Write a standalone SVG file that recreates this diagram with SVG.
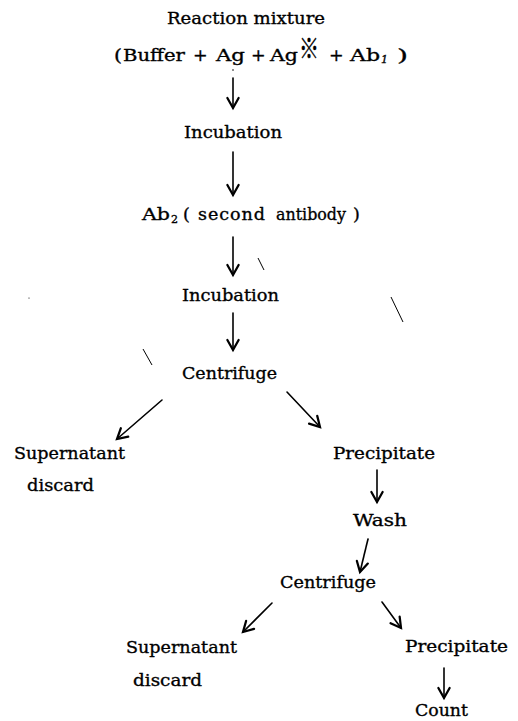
<svg xmlns="http://www.w3.org/2000/svg" width="518" height="721" viewBox="0 0 518 721">
<defs>
<style>
.t{font-family:"DejaVu Serif","Liberation Serif",serif;font-size:17.5px;fill:#000;stroke:#000;stroke-width:0.35;}
.c{stroke:#000;stroke-width:1.6;fill:none;stroke-linecap:round;}
.ah{stroke:#000;stroke-width:1.8;fill:none;stroke-linecap:round;stroke-linejoin:miter;}
.m{stroke:#000;stroke-width:1;fill:none;}
</style>
<marker id="arr" markerUnits="userSpaceOnUse" markerWidth="20" markerHeight="20" viewBox="-12 -8 14 16" refX="0" refY="0" orient="auto">
<path class="ah" d="M-8,-4.5 L0,0 L-8,4.5"/>
</marker>
</defs>
<rect width="518" height="721" fill="#fff"/>

<g id="n-reaction">
<text class="t" x="167" y="24" textLength="158" lengthAdjust="spacingAndGlyphs">Reaction mixture</text>
<text class="t" y="61"><tspan x="114" textLength="8" lengthAdjust="spacingAndGlyphs">(</tspan><tspan x="123" textLength="62" lengthAdjust="spacingAndGlyphs">Buffer</tspan><tspan x="193">+</tspan><tspan x="216" textLength="29" lengthAdjust="spacingAndGlyphs">Ag</tspan><tspan x="251">+</tspan><tspan x="270" textLength="28" lengthAdjust="spacingAndGlyphs">Ag</tspan><tspan x="329">+</tspan><tspan x="350" textLength="30" lengthAdjust="spacingAndGlyphs">Ab</tspan><tspan x="381" y="63" font-size="11" font-style="italic">1</tspan><tspan x="397" y="61" textLength="11" lengthAdjust="spacingAndGlyphs">)</tspan></text>
<text x="299" y="59" font-family="'Noto Sans CJK SC','Noto Sans CJK JP',sans-serif" font-size="28" fill="#000" stroke="#000" stroke-width="0.3" textLength="20" lengthAdjust="spacingAndGlyphs">※</text>
</g>

<g id="n-incubation1">
<text class="t" x="184" y="138" textLength="98" lengthAdjust="spacingAndGlyphs">Incubation</text>
</g>

<g id="n-ab2">
<text class="t" y="220"><tspan x="142" textLength="28" lengthAdjust="spacingAndGlyphs">Ab</tspan><tspan x="171" y="223" font-size="11">2</tspan><tspan x="183" y="220">(</tspan><tspan x="198" textLength="67" lengthAdjust="spacing">second</tspan><tspan x="276" textLength="70" lengthAdjust="spacingAndGlyphs">antibody</tspan><tspan x="353">)</tspan></text>
</g>

<g id="n-incubation2">
<text class="t" x="182" y="301" textLength="97" lengthAdjust="spacingAndGlyphs">Incubation</text>
</g>

<g id="n-centrifuge1">
<text class="t" x="182" y="379" textLength="95" lengthAdjust="spacingAndGlyphs">Centrifuge</text>
</g>

<g id="n-supernatant1">
<text class="t" x="14" y="459" textLength="111" lengthAdjust="spacingAndGlyphs">Supernatant</text>
<text class="t" x="27" y="491" textLength="67" lengthAdjust="spacingAndGlyphs">discard</text>
</g>

<g id="n-precipitate1">
<text class="t" x="333" y="459" textLength="102" lengthAdjust="spacingAndGlyphs">Precipitate</text>
</g>

<g id="n-wash">
<text class="t" x="353" y="526" textLength="54" lengthAdjust="spacingAndGlyphs">Wash</text>
</g>

<g id="n-centrifuge2">
<text class="t" x="280" y="588" textLength="96" lengthAdjust="spacingAndGlyphs">Centrifuge</text>
</g>

<g id="n-supernatant2">
<text class="t" x="126" y="653" textLength="111" lengthAdjust="spacingAndGlyphs">Supernatant</text>
<text class="t" x="133" y="686" textLength="69" lengthAdjust="spacingAndGlyphs">discard</text>
</g>

<g id="n-precipitate2">
<text class="t" x="405" y="652" textLength="103" lengthAdjust="spacingAndGlyphs">Precipitate</text>
</g>

<g id="n-count">
<text class="t" x="415" y="716" textLength="53" lengthAdjust="spacingAndGlyphs">Count</text>
</g>

<g id="connectors">
<line class="c" x1="233" y1="78" x2="233" y2="108" marker-end="url(#arr)"/>
<line class="c" x1="233" y1="152" x2="233" y2="195" marker-end="url(#arr)"/>
<line class="c" x1="233" y1="237" x2="233" y2="275" marker-end="url(#arr)"/>
<line class="c" x1="233" y1="313" x2="233" y2="350" marker-end="url(#arr)"/>
<line class="c" x1="162" y1="400" x2="117" y2="439" marker-end="url(#arr)"/>
<line class="c" x1="287" y1="392" x2="320" y2="427" marker-end="url(#arr)"/>
<line class="c" x1="377" y1="470" x2="377" y2="502" marker-end="url(#arr)"/>
<line class="c" x1="368" y1="539" x2="360" y2="572" marker-end="url(#arr)"/>
<line class="c" x1="272" y1="603" x2="243" y2="632" marker-end="url(#arr)"/>
<line class="c" x1="382" y1="602" x2="401" y2="628" marker-end="url(#arr)"/>
<line class="c" x1="444" y1="668" x2="444" y2="698" marker-end="url(#arr)"/>
</g>

<g id="scan-marks">
<circle cx="233" cy="70" r="0.8" fill="#000"/>
<line class="m" x1="258" y1="258" x2="264" y2="270"/>
<line class="m" x1="391" y1="297" x2="403" y2="322"/>
<line class="m" x1="143" y1="349" x2="152" y2="365"/>
<circle cx="29" cy="298" r="0.6" fill="#000"/>
</g>
</svg>
